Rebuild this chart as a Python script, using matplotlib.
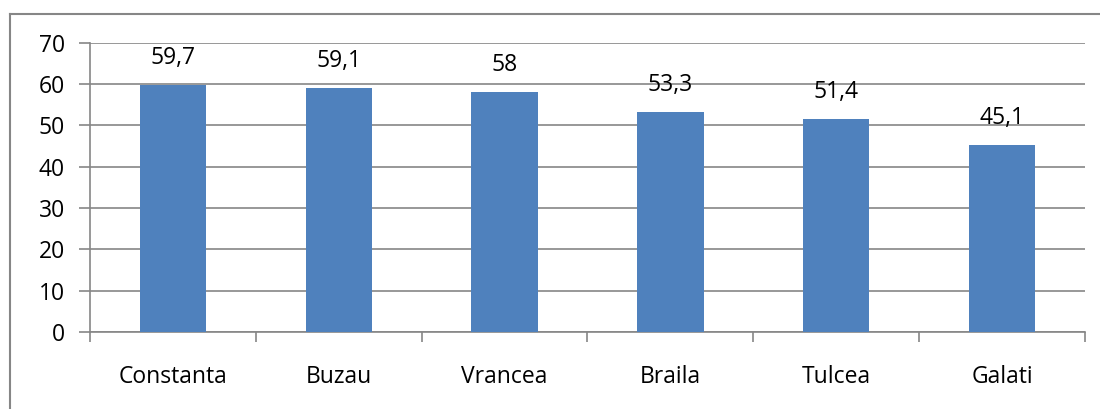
import matplotlib
matplotlib.use("Agg")
import matplotlib.pyplot as plt
from matplotlib.lines import Line2D
import numpy as np

judete = ["Constanta", "Buzau", "Vrancea", "Braila", "Tulcea", "Galati"]
valori = [59.7, 59.1, 58, 53.3, 51.4, 45.1]
y_ticks = [0, 10, 20, 30, 40, 50, 60, 70]

plt.rcParams["font.family"] = ["Open Sans", "DejaVu Sans"]
FS = 16.5

fig = plt.figure(figsize=(11, 4.09), dpi=100)
ax = fig.add_axes([90 / 1100, 77 / 409, 995 / 1100, 289.5 / 409])

grey = "#868686"
bar_color = "#4F81BD"

x = np.arange(len(judete))
ax.bar(x, valori, width=0.4, color=bar_color, zorder=3)

for xi, v in zip(x, valori):
    txt = f"{v:g}".replace(".", ",")
    ax.annotate(txt, (xi, v), xytext=(0, 27), textcoords="offset pixels",
                ha="center", va="center", fontsize=FS, color="black")

ax.set_xlim(-0.5, len(judete) - 0.5)
ax.set_ylim(0, 70)
ax.set_yticks(y_ticks)
ax.set_yticklabels([str(t) for t in y_ticks], fontsize=FS)
ax.set_xticks(x)
ax.set_xticklabels(judete, fontsize=FS)
ax.set_xticks(np.arange(-0.5, len(judete)), minor=True)

ax.tick_params(axis="x", which="major", length=0, pad=24)
ax.tick_params(axis="x", which="minor", length=7, color=grey, width=1.2)
ax.tick_params(axis="y", length=8, color=grey, width=1.2, pad=10)

ax.yaxis.grid(True, color=grey, linewidth=1.2, zorder=0)
ax.set_axisbelow(True)
for side in ("top", "right"):
    ax.spines[side].set_visible(False)
for side in ("left", "bottom"):
    ax.spines[side].set_color(grey)
    ax.spines[side].set_linewidth(1.2)

# outer chart-area frame (left and top edges fall inside the image)
fig.add_artist(Line2D([10 / 1100, 10 / 1100], [0, 1 - 13.7 / 409],
                      transform=fig.transFigure, color=grey, linewidth=1.5))
fig.add_artist(Line2D([10 / 1100, 1], [1 - 13.7 / 409, 1 - 13.7 / 409],
                      transform=fig.transFigure, color=grey, linewidth=1.5))

fig.savefig("out.png", dpi=100)
